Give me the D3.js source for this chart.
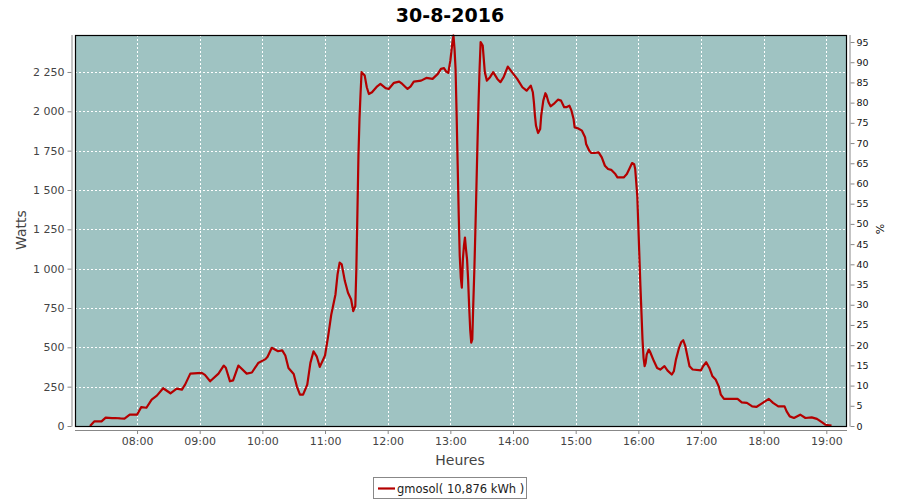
<!DOCTYPE html>
<html><head><meta charset="utf-8">
<script src="https://cdn.jsdelivr.net/npm/d3@7"></script>
<style>
html,body{margin:0;padding:0;background:#fff;}
svg{display:block;font-family:"DejaVu Sans",sans-serif;}
</style></head>
<body><svg id="c" width="900" height="500"></svg>
<script>
const title = "30-8-2016";
const seriesName = "gmosol( 10,876 kWh )";
const times = ["07:15","07:19","07:26","07:30","07:36","07:39","07:44","07:48","07:53","08:00","08:04","08:09","08:14","08:19","08:25","08:32","08:38","08:43","08:46","08:51","09:02","09:05","09:10","09:18","09:23","09:25","09:29","09:32","09:37","09:45","09:50","09:56","10:03","10:05","10:09","10:15","10:19","10:22","10:25","10:30","10:33","10:36","10:39","10:43","10:46","10:49","10:52","10:55","11:00","11:03","11:06","11:10","11:12","11:14","11:16","11:19","11:22","11:25","11:27","11:29","11:30","11:31","11:32","11:33","11:34","11:35","11:38","11:40","11:42","11:45","11:50","11:53","11:58","12:01","12:06","12:11","12:14","12:19","12:22","12:25","12:32","12:37","12:43","12:48","12:51","12:54","12:56","12:58","13:00","13:02","13:03","13:04","13:05","13:06","13:07","13:08","13:09","13:10","13:11","13:12","13:13","13:14","13:15","13:16","13:17","13:18","13:19","13:20","13:21","13:22","13:23","13:24","13:25","13:26","13:27","13:28","13:29","13:31","13:32","13:33","13:35","13:38","13:41","13:45","13:48","13:51","13:55","13:59","14:04","14:09","14:13","14:17","14:19","14:20","14:21","14:22","14:24","14:26","14:27","14:29","14:31","14:32","14:34","14:36","14:39","14:43","14:46","14:49","14:51","14:54","14:56","14:58","14:59","15:02","15:06","15:09","15:10","15:13","15:15","15:18","15:22","15:25","15:28","15:31","15:34","15:38","15:40","15:46","15:49","15:52","15:54","15:56","15:57","15:58","15:59","16:00","16:01","16:02","16:03","16:04","16:05","16:06","16:07","16:08","16:10","16:11","16:15","16:18","16:21","16:25","16:28","16:32","16:34","16:36","16:39","16:41","16:43","16:45","16:47","16:49","16:52","17:00","17:02","17:05","17:08","17:11","17:14","17:17","17:19","17:22","17:35","17:39","17:44","17:49","17:53","17:58","18:05","18:09","18:14","18:20","18:22","18:25","18:29","18:35","18:40","18:46","18:51","18:56","18:59","19:05"];
const watts = [0,29,29,53,50,51,48,47,72,72,120,116,168,193,240,208,238,231,263,333,338,325,284,333,384,370,284,290,384,333,340,400,425,440,497,475,481,448,369,330,252,199,199,263,401,475,443,376,448,571,709,836,964,1038,1027,921,847,804,730,762,1000,1350,1717,1951,2110,2249,2227,2153,2110,2121,2159,2174,2147,2142,2181,2189,2174,2142,2159,2189,2195,2212,2206,2238,2270,2274,2252,2244,2322,2440,2482,2397,2270,1983,1664,1346,1080,943,879,1059,1144,1198,1123,1059,932,762,613,529,550,784,996,1251,1526,1803,2058,2270,2440,2418,2333,2249,2195,2217,2249,2206,2185,2217,2284,2249,2206,2153,2131,2163,2121,2058,1972,1909,1862,1887,1972,2068,2115,2104,2058,2032,2047,2074,2068,2026,2026,2036,2004,1951,1898,1892,1877,1835,1792,1749,1735,1735,1739,1707,1654,1633,1628,1601,1580,1580,1601,1643,1671,1664,1633,1548,1460,1271,1080,889,720,550,433,380,401,454,486,475,411,369,359,380,352,327,348,422,497,532,545,507,443,380,359,354,380,405,369,316,295,252,199,172,172,150,147,125,121,142,172,147,125,125,93,61,51,72,51,55,45,23,8,3];
const wattTicks = [0,250,500,750,1000,1250,1500,1750,2000,2250];
const pctTicks = [0,5,10,15,20,25,30,35,40,45,50,55,60,65,70,75,80,85,90,95];
const hourTicks = ["08:00","09:00","10:00","11:00","12:00","13:00","14:00","15:00","16:00","17:00","18:00","19:00"];
const wattMax = 2485;
const wattsPerPct = 25.69;
const timeStart = "07:00:36", timeEnd = "19:19:48";

const parse = d3.timeParse("%H:%M");
const parseS = d3.timeParse("%H:%M:%S");
const data = times.map((t,i)=>({t:parse(t), v:watts[i]}));

const svg = d3.select("#c");
const L=75, R=847, T=35, B=426;
const x = d3.scaleTime().domain([parseS(timeStart), parseS(timeEnd)]).range([L,R]);
const y = d3.scaleLinear().domain([0,wattMax]).range([B,T]);
const y2 = d3.scaleLinear().domain([0,wattMax/wattsPerPct]).range([B,T]);

// plot bg
svg.append("rect").attr("x",L).attr("y",T).attr("width",R-L).attr("height",B-T).attr("fill","#9fc3c2");
// grid
const g = svg.append("g").attr("stroke","#fff").attr("stroke-width",1).attr("stroke-dasharray","2,2");
hourTicks.forEach(h=>{const xx=Math.round(x(parse(h)))+0.5; g.append("line").attr("x1",xx).attr("x2",xx).attr("y1",T).attr("y2",B);});
wattTicks.slice(1).forEach(v=>{const yy=Math.round(y(v))+0.5; g.append("line").attr("x1",L).attr("x2",R).attr("y1",yy).attr("y2",yy);});

// line
svg.append("path").datum(data).attr("fill","none").attr("stroke","#b40000").attr("stroke-width",2.2).attr("stroke-linejoin","round")
  .attr("d", d3.line().x(d=>x(d.t)).y(d=>y(d.v)));

// outline
svg.append("rect").attr("x",L+0.5).attr("y",T+0.5).attr("width",R-L-1).attr("height",B-T).attr("fill","none").attr("stroke","#000").attr("stroke-width",1.2);

// left axis
const fmtW = v => d3.format(",")(v).replace(/,/g," ");
const ax = svg.append("g").attr("transform",`translate(${L-3.5},0)`)
  .call(d3.axisLeft(y).tickValues(wattTicks).tickFormat(fmtW).tickSize(4).tickPadding(3));
ax.select(".domain").attr("stroke","#888").attr("d",`M0.5,${T}V${B+0.5}`);
ax.selectAll(".tick line").attr("stroke","#888");
ax.selectAll("text").attr("fill","#444").style("font-size","11px").style("font-family","DejaVu Sans");

// right axis
const ar = svg.append("g").attr("transform",`translate(${R+3.5},0)`)
  .call(d3.axisRight(y2).tickValues(pctTicks).tickSize(4).tickPadding(2));
ar.select(".domain").attr("stroke","#888").attr("d",`M-0.5,${T}V${B+0.5}`);
ar.selectAll(".tick line").attr("stroke","#888");
ar.selectAll("text").attr("fill","#111").style("font-size","9.5px").style("font-family","DejaVu Sans");

// bottom axis
const ab = svg.append("g").attr("transform",`translate(0,${B+4})`)
  .call(d3.axisBottom(x).tickValues(hourTicks.map(parse)).tickFormat(d3.timeFormat("%H:%M")).tickSize(4).tickPadding(3));
ab.select(".domain").attr("stroke","#888").attr("d",`M${L},0.5H${R}`);
ab.selectAll(".tick line").attr("stroke","#888");
ab.selectAll("text").attr("fill","#444").style("font-size","11px").style("font-family","DejaVu Sans");

// title
svg.append("text").attr("x",450).attr("y",22).attr("text-anchor","middle").style("font-size","19px").style("font-weight","bold").attr("fill","#000").text(title);
// axis labels
svg.append("text").attr("transform","translate(26,230) rotate(-90)").attr("text-anchor","middle").style("font-size","14px").attr("fill","#444").text("Watts");
svg.append("text").attr("x",460).attr("y",465).attr("text-anchor","middle").style("font-size","14px").attr("fill","#444").text("Heures");
svg.append("text").attr("transform","translate(884,229) rotate(-90)").attr("text-anchor","middle").style("font-size","11px").attr("fill","#111").text("%");

// legend
const lg = svg.append("g");
lg.append("rect").attr("x",373.5).attr("y",477.5).attr("width",153).attr("height",21).attr("fill","#fff").attr("stroke","#888");
lg.append("line").attr("x1",378).attr("x2",395).attr("y1",488.5).attr("y2",488.5).attr("stroke","#b40000").attr("stroke-width",2.2);
lg.append("text").attr("x",397).attr("y",492.5).style("font-size","11.5px").attr("fill","#222").text(seriesName);
</script></body></html>
